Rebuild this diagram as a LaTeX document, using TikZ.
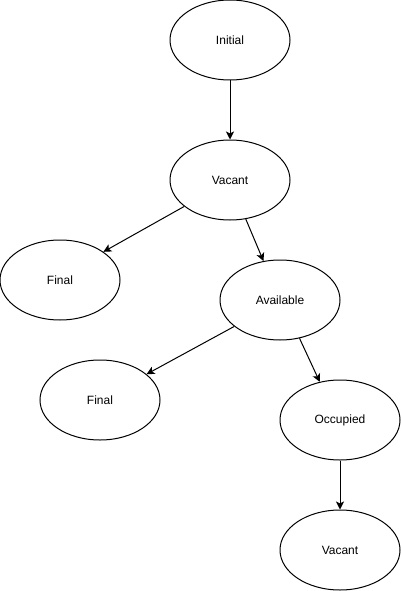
\documentclass[tikz,border=0pt]{standalone}
\usepackage{fontspec}
\setmainfont{Liberation Sans}
\usetikzlibrary{shapes.geometric,arrows.meta}

\tikzset{
    state/.style={ellipse, draw=black, line width=1pt, minimum width=120pt, minimum height=80pt, inner sep=0pt, font=\fontsize{12}{14}\selectfont},
    trans/.style={-{Stealth[length=8pt,width=8pt,inset=2pt]}, line width=1pt}
}

\begin{document}
\begin{tikzpicture}[x=1pt,y=-1pt]
    \useasboundingbox (0,0) rectangle (401,591);
    \node[state] (initial) at (230,40) {Initial};
    \node[state] (vacant) at (230,180) {Vacant};
    \node[state] (finalA) at (60,280) {Final};
    \node[state] (available) at (280,300) {Available};
    \node[state] (finalB) at (100,400) {Final};
    \node[state] (occupied) at (340,420) {Occupied};
    \node[state] (vacantB) at (340,550) {Vacant};

    \draw[trans] (initial.south) -- (vacant.north);
    \draw[trans] (vacant.210) -- (finalA.33);
    \draw[trans] (vacant.292) -- (available.113);
    \draw[trans] (available.210) -- (finalB.29);
    \draw[trans] (available.297) -- (occupied.118);
    \draw[trans] (occupied.south) -- (vacantB.north);
\end{tikzpicture}
\end{document}
